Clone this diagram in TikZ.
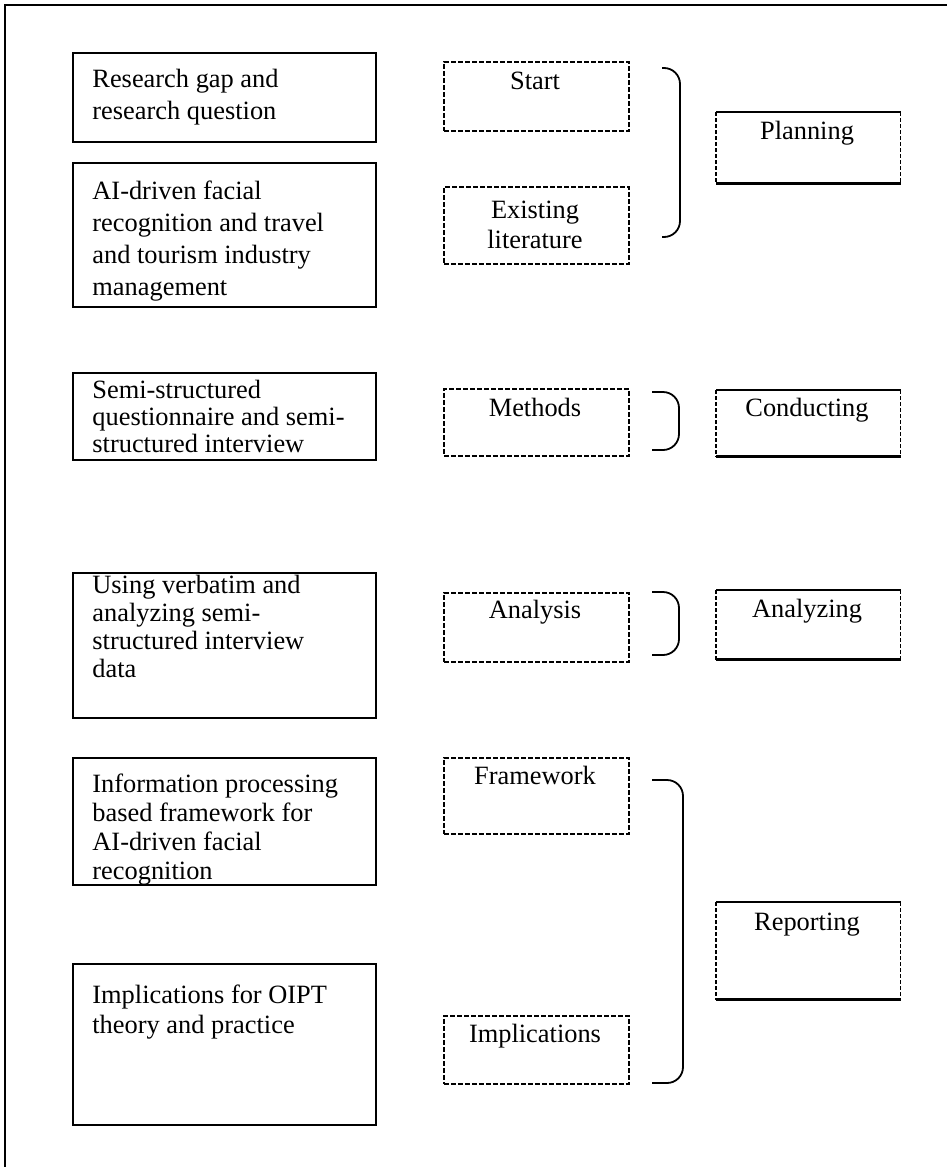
\documentclass[tikz,border=0pt]{standalone}
\usepackage{fontspec}
\setmainfont{Liberation Serif}
\begin{document}
\begin{tikzpicture}[
	x=0.5pt, y=-0.5pt,
	box/.style={anchor=north west, inner sep=0pt, line width=0.8pt},
	stagebox/.style={box, draw, minimum width=151.5pt},
	phasebox/.style={box, draw, dash pattern=on 2.5pt off 1pt, minimum width=92.5pt},
	stepbox/.style={box, minimum width=91.5pt},
	boxtext/.style={inner sep=0pt, font=\fontsize{13.2}{16}\selectfont},
	stagetext/.style={boxtext, anchor=base west, align=left},
	phasetext/.style={boxtext, anchor=base, align=center},
	tight/.style={font=\fontsize{13.2}{13.5}\selectfont},
	bracket/.style={line width=0.9pt, rounded corners=8pt}
]
	\useasboundingbox (0,0) rectangle (947,1167);

	% Frame
	\draw[line width=1.2pt] (4,5) -- (947,5);
	\draw[line width=0.8pt] (5,5) -- (5,1167);

	% Left column
	\node[stagebox, minimum height=44.5pt] (gap) at (72,52) {};
	\node[stagebox, minimum height=72pt] (fr) at (72,162) {};
	\node[stagebox, minimum height=43.5pt] (ssq) at (72,372) {};
	\node[stagebox, minimum height=72.5pt] (verb) at (72,572) {};
	\node[stagebox, minimum height=63.5pt] (ipf) at (72,757) {};
	\node[stagebox, minimum height=80.5pt] (oipt) at (72,963) {};

	% (anchored at the baseline of the last line)
	\node[stagetext] (gap-t) at (92,119) {Research gap and\\research question};
	\node[stagetext] (fr-t) at (92,295) {AI-driven facial\\recognition and travel\\and tourism industry\\management};
	\node[stagetext, tight] (ssq-t) at (92,452) {Semi-structured\\questionnaire and semi-\\structured interview};
	\node[stagetext, font=\fontsize{13.2}{14}\selectfont] (verb-t) at (92,677) {Using verbatim and\\analyzing semi-\\structured interview\\data};
	\node[stagetext, font=\fontsize{13.2}{14.5}\selectfont] (ipf-t) at (92,879) {Information processing\\based framework for\\AI-driven facial\\recognition};
	\node[stagetext, font=\fontsize{13.2}{15}\selectfont] (oipt-t) at (92,1033) {Implications for OIPT\\theory and practice};

	% Middle column
	\node[phasebox, minimum height=34.5pt] (start) at (443,61) {};
	\node[phasebox, minimum height=38.5pt] (lit) at (443,186) {};
	\node[phasebox, minimum height=33.5pt] (meth) at (443,388) {};
	\node[phasebox, minimum height=34.5pt] (ana) at (443,592) {};
	\node[phasebox, minimum height=38pt] (fw) at (443,757) {};
	\node[phasebox, minimum height=34pt] (imp) at (443,1015) {};

	\node[phasetext] (start-t) at (535,89) {Start};
	\node[phasetext, font=\fontsize{13.2}{15}\selectfont] (lit-t) at (535,248) {Existing\\literature};
	\node[phasetext] (meth-t) at (535,416) {Methods};
	\node[phasetext] (ana-t) at (535,618) {Analysis};
	\node[phasetext] (fw-t) at (535,784) {Framework};
	\node[phasetext] (imp-t) at (535,1042) {Implications};

	% Right column
	\node[stepbox, minimum height=35pt] (plan) at (716,112) {};
	\node[stepbox, minimum height=32.5pt] (cond) at (716,390) {};
	\node[stepbox, minimum height=34pt] (anal) at (716,590) {};
	\node[stepbox, minimum height=48pt] (rep) at (716,902) {};

	\node[phasetext] (plan-t) at (807,139) {Planning};
	\node[phasetext] (cond-t) at (807,416) {Conducting};
	\node[phasetext] (anal-t) at (807,617) {Analyzing};
	\node[phasetext] (rep-t) at (807,930) {Reporting};

	\foreach \n in {plan,cond,anal,rep} {
		\draw[line width=1pt] (\n.north west) -- (\n.north east);
		\draw[line width=1.6pt] (\n.south west) -- (\n.south east);
		\draw[line width=0.6pt, dash pattern=on 2pt off 1pt] (\n.north west) -- (\n.south west) (\n.north east) -- (\n.south east);
	}

	% Brackets
	\coordinate (plan-a) at (662,68);
	\coordinate (plan-b) at (662,237);
	\coordinate (cond-a) at (652,392);
	\coordinate (cond-b) at (652,450);
	\coordinate (anal-a) at (652,592);
	\coordinate (anal-b) at (652,655);
	\coordinate (rep-a) at (652,780);
	\coordinate (rep-b) at (652,1083);

	\draw[bracket] (plan-a) -- ++(18,0) |- (plan-b);
	\draw[bracket] (cond-a) -- ++(27,0) |- (cond-b);
	\draw[bracket] (anal-a) -- ++(27,0) |- (anal-b);
	\draw[bracket] (rep-a) -- ++(31,0) |- (rep-b);
\end{tikzpicture}
\end{document}
